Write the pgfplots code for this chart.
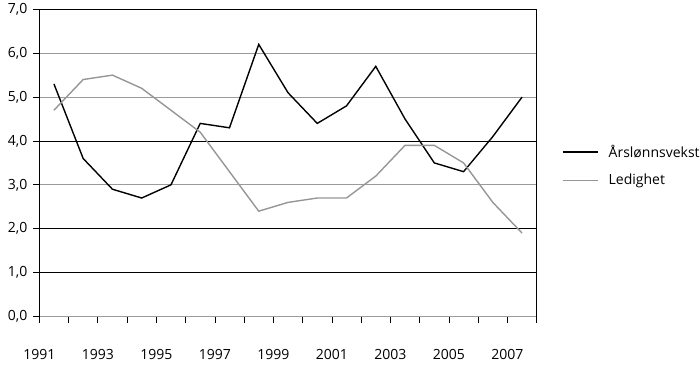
\documentclass[border=0pt]{standalone}
\usepackage{pgfplots}
\pgfplotsset{compat=1.18}
\usepackage{fontspec}
\setmainfont{Open Sans}
\definecolor{lgray}{RGB}{150,150,150}
\definecolor{ggray}{RGB}{155,155,155}
\begin{document}
\fontsize{14pt}{16pt}\selectfont
\begin{tikzpicture}
\path[use as bounding box] (-39.3pt,-47.5pt) rectangle (660.7pt,316.5pt);
\begin{axis}[
  at={(0,0)}, anchor=south west,
  scale only axis, width=497.4pt, height=307.2pt,
  xmin=0, xmax=17, ymin=0, ymax=7,
  axis lines*=left,
  x axis line style={ggray, line width=0.9pt},
  y axis line style={black, line width=0.8pt},
  tick align=outside,
  major tick length=6pt,
  tick style={black, line width=0.7pt},
  xtick={0,...,17},
  xticklabels={1991,,1993,,1995,,1997,,1999,,2001,,2003,,2005,,2007,},
  xticklabel style={yshift=-22pt},
  ytick={0,...,7},
  ymajorgrids,
  grid style={ggray, line width=0.9pt},
  extra y ticks={1,2,4,7},
  extra y tick labels={},
  extra y tick style={grid style={black, line width=0.8pt}},
  extra x ticks={17},
  extra x tick labels={},
  extra x tick style={xmajorgrids, grid style={black, line width=0.8pt}},
  yticklabel style={xshift=-1pt},
  /pgf/number format/.cd, use comma, fixed, fixed zerofill, precision=1, assume math mode=true,
  /pgfplots/.cd,
  ticklabel style={font=\fontsize{14pt}{16pt}\selectfont},
  legend cell align=left,
  legend style={at={(1.045,0.49)}, anchor=west, draw=none, fill=none,
    font=\fontsize{14pt}{16pt}\selectfont, row sep=11pt, column sep=8pt},
  legend image code/.code={\draw[#1] (0pt,0pt) -- (35pt,0pt);},
]
\addplot[black, line width=1.4pt] coordinates {
(0.5,5.3) (1.5,3.6) (2.5,2.9) (3.5,2.7) (4.5,3.0) (5.5,4.4) (6.5,4.3) (7.5,6.2) (8.5,5.1)
(9.5,4.4) (10.5,4.8) (11.5,5.7) (12.5,4.5) (13.5,3.5) (14.5,3.3) (15.5,4.1) (16.5,5.0)};
\addlegendentry{Årslønnsvekst}
\addplot[lgray, line width=1.4pt] coordinates {
(0.5,4.7) (1.5,5.4) (2.5,5.5) (3.5,5.2) (4.5,4.7) (5.5,4.2) (6.5,3.3) (7.5,2.4) (8.5,2.6)
(9.5,2.7) (10.5,2.7) (11.5,3.2) (12.5,3.9) (13.5,3.9) (14.5,3.5) (15.5,2.6) (16.5,1.9)};
\addlegendentry{Ledighet}
\end{axis}
\end{tikzpicture}
\end{document}
